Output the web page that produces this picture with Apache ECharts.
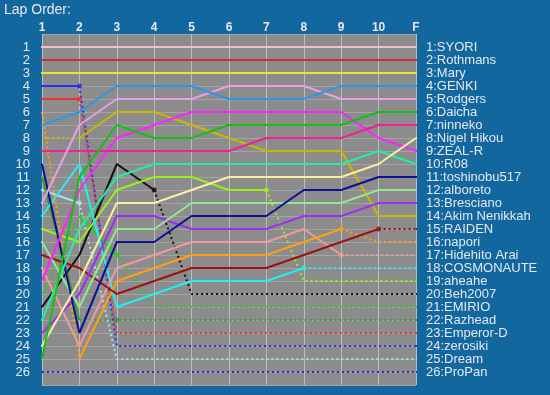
<!DOCTYPE html>
<html>
<head>
<meta charset="utf-8">
<script src="https://cdn.jsdelivr.net/npm/echarts@6/dist/echarts.min.js"></script>
<style>
html,body{margin:0;padding:0;background:#12689e;}
#c{width:550px;height:395px;}
</style>
</head>
<body>
<div id="c"></div>
<script>
// Lap columns (top axis)
const laps = ['1','2','3','4','5','6','7','8','9','10','F'];
// Drivers in final classification order
const drivers = ['SYORI','Rothmans','Mary','GENKI','Rodgers','Daicha','ninneko','Nigel Hikou','ZEAL-R','R08',
  'toshinobu517','alboreto','Bresciano','Akim Nenikkah','RAIDEN','napori','Hidehito Arai','COSMONAUTE',
  'aheahe','Beh2007','EMIRIO','Razhead','Emperor-D','zerosiki','Dream','ProPan'];
// Position of each driver at each lap column
const positions = [
  [1,1,1,1,1,1,1,1,1,1,1],
  [2,2,2,2,2,2,2,2,2,2,2],
  [3,3,3,3,3,3,3,3,3,3,3],
  [7,6,4,4,4,5,5,5,4,4,4],
  [13,7,5,5,5,4,4,4,5,5,5],
  [25,11,7,8,8,7,7,7,7,6,6],
  [9,9,9,9,9,9,8,8,8,7,7],
  [24,19,13,13,12,11,11,11,11,10,8],
  [19,12,8,7,6,6,6,6,6,8,9],
  [22,15,11,10,10,10,10,10,10,9,10],
  [10,23,16,16,14,14,14,12,12,11,11],
  [16,21,15,15,13,13,13,13,13,12,12],
  [23,20,14,14,15,15,15,14,14,13,13],
  [8,8,6,6,7,8,9,9,9,14,14],
  [17,18,20,19,18,18,18,17,16,15,15],
  [6,25,19,18,17,17,17,16,15,16,16],
  [18,24,18,17,16,16,16,15,17,17,17],
  [14,10,21,20,19,19,19,18,18,18,18],
  [15,16,12,11,11,12,12,19,19,19,19],
  [21,17,10,12,20,20,20,20,20,20,20],
  [20,14,17,21,21,21,21,21,21,21,21],
  [11,22,22,22,22,22,22,22,22,22,22],
  [5,5,23,23,23,23,23,23,23,23,23],
  [4,4,24,24,24,24,24,24,24,24,24],
  [12,13,25,25,25,25,25,25,25,25,25],
  [26,26,26,26,26,26,26,26,26,26,26]
];
// First segment (lap 1 -> 2) drawn dotted
const firstDotted = [0,0,0,0,0,0,0,0,0,0,0,0,0,1,0,1,0,0,0,0,1,0,0,0,0,0];
// Lap index from which the line turns dotted (retired), -1 = never
const retiredFrom = [-1,-1,-1,-1,-1,-1,-1,-1,-1,-1,-1,-1,-1,-1,9,8,8,7,6,3,2,1,1,1,1,0];
// Lap index where the retirement marker sits, -1 = none
const markerAt = [-1,-1,-1,-1,-1,-1,-1,-1,-1,-1,-1,-1,-1,-1,9,8,8,7,6,3,2,2,1,1,1,-1];

const colors = ['#f2c2c2','#c83232','#e6e62a','#2a98e6','#e8a0e8','#14c014','#f0209a','#f8f0a0','#ff22ff','#22f0a0',
  '#101090','#94e894','#9a30f0','#c8b800','#a01010','#ffa010','#f09a9a','#22f0f0',
  '#98f020','#111111','#22d022','#2fa02f','#f03232','#2232f0','#a6e0f8','#2a2ad0'];

const STUB = 0.245;
const DOT = [2, 3];
const series = [];
drivers.forEach((name, d) => {
  const p = positions[d];
  const color = colors[d];
  const seg = (a, b, dotted) => {
    const data = [];
    for (let i = a; i <= b; i++) data.push([i + 1, p[i]]);
    series.push({
      type: 'line', data: data, symbol: 'none', silent: true, animation: false,
      lineStyle: { color: color, width: 2, type: dotted ? DOT : 'solid' },
      z: 2 + (26 - d) / 100
    });
  };
  const startSolid = firstDotted[d] ? 1 : 0;
  const endSolid = retiredFrom[d] >= 0 ? retiredFrom[d] : laps.length - 1;
  if (firstDotted[d]) seg(0, 1, true);
  if (endSolid > startSolid) seg(startSolid, endSolid, false);
  if (retiredFrom[d] >= 0) seg(retiredFrom[d], laps.length - 1, true);
  if (markerAt[d] >= 0) {
    series.push({
      type: 'scatter', data: [[markerAt[d] + 1, p[markerAt[d]]]], symbol: 'circle', symbolSize: 5,
      itemStyle: { color: color }, silent: true, animation: false, z: 3
    });
  }
  // left stub (starting grid)
  const leftDotted = firstDotted[d] || retiredFrom[d] === 0;
  series.push({
    type: 'line', clip: false, data: [[1 - STUB, p[0]], [1, p[0]]], symbol: 'none', silent: true, animation: false,
    lineStyle: { color: color, width: 2, type: leftDotted ? DOT : 'solid' }, z: 2
  });
  // right stub (final)
  const last = laps.length;
  series.push({
    type: 'line', clip: false, data: [[last, p[last - 1]], [last + STUB, p[last - 1]]], symbol: 'none', silent: true, animation: false,
    lineStyle: { color: color, width: 2, type: retiredFrom[d] >= 0 ? DOT : 'solid' }, z: 2
  });
});

const chart = echarts.init(document.getElementById('c'), null, { renderer: 'canvas' });
const txt = '#e6e8ee';
chart.setOption({
  backgroundColor: '#12689e',
  animation: false,
  title: { text: 'Lap Order:', left: 4, top: 3, padding: 0, textStyle: { color: txt, fontSize: 14, fontWeight: 'normal', fontFamily: 'Liberation Sans' } },
  grid: { left: 42, right: 134, top: 34, bottom: 10, show: true, backgroundColor: '#8c8c8c', borderWidth: 0 },
  xAxis: {
    type: 'value', position: 'top', min: 1, max: laps.length, interval: 1,
    axisLine: { show: false }, axisTick: { show: false },
    axisLabel: { color: txt, fontSize: 12, fontWeight: 'bold', fontFamily: 'Liberation Sans', margin: 0,
      formatter: v => laps[v - 1] || '' },
    splitLine: { show: true, lineStyle: { color: '#bcbcbc', width: 1 } }
  },
  yAxis: [{
    type: 'value', inverse: true, min: 0, max: drivers.length + 1, interval: 1,
    axisLine: { show: false }, axisTick: { show: false },
    axisLabel: { color: txt, fontSize: 13, fontFamily: 'Liberation Sans', margin: 12,
      formatter: v => (v >= 1 && v <= drivers.length) ? String(v) : '' },
    splitLine: { show: true, lineStyle: { color: '#a4a4a4', width: 1 } }
  }, {
    type: 'value', inverse: true, min: 0, max: drivers.length + 1, interval: 1, position: 'right',
    axisLine: { show: false }, axisTick: { show: false },
    axisLabel: { color: txt, fontSize: 13, fontFamily: 'Liberation Sans', margin: 10,
      formatter: v => (v >= 1 && v <= drivers.length) ? v + ':' + drivers[v - 1] : '' },
    splitLine: { show: false }
  }],
  series: series
});
</script>
</body>
</html>
